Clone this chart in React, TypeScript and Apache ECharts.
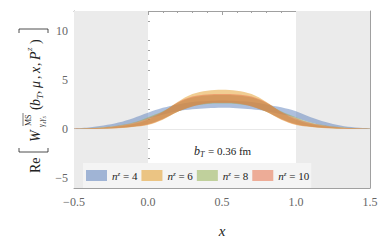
import React, { useEffect, useRef } from "react";
import * as echarts from "echarts";

const xs = [-0.5, -0.4, -0.3, -0.2, -0.1, 0.0, 0.1, 0.2, 0.3, 0.4, 0.5, 0.6, 0.7, 0.8, 0.9, 1.0, 1.1, 1.2, 1.3, 1.4, 1.5];

const blueLo = [0.0, 0.05, 0.15, 0.3, 0.6, 1.05, 1.45, 1.8, 2.0, 2.1, 2.15, 2.1, 2.0, 1.8, 1.5, 1.15, 0.65, 0.3, 0.15, 0.05, 0.0];
const blueHi = [0.05, 0.15, 0.35, 0.65, 1.1, 1.65, 2.15, 2.5, 2.75, 2.85, 2.9, 2.85, 2.75, 2.5, 2.2, 1.8, 1.2, 0.7, 0.35, 0.15, 0.05];
const orLo = [0.0, 0.0, 0.02, 0.08, 0.2, 0.4, 0.95, 1.75, 2.35, 2.65, 2.7, 2.65, 2.35, 1.75, 0.95, 0.4, 0.2, 0.08, 0.02, 0.0, 0.0];
const orHi = [0.02, 0.05, 0.12, 0.25, 0.5, 0.95, 1.7, 2.75, 3.55, 3.9, 4.0, 3.9, 3.55, 2.75, 1.7, 0.95, 0.5, 0.25, 0.12, 0.05, 0.02];
const grLo = [0.0, 0.0, 0.04, 0.12, 0.25, 0.5, 1.05, 1.75, 2.3, 2.55, 2.6, 2.55, 2.3, 1.75, 1.05, 0.5, 0.25, 0.12, 0.04, 0.0, 0.0];
const grHi = [0.03, 0.08, 0.18, 0.35, 0.65, 1.2, 1.8, 2.65, 3.2, 3.4, 3.45, 3.4, 3.2, 2.65, 1.8, 1.2, 0.65, 0.35, 0.18, 0.08, 0.03];
const rdLo = [0.0, 0.0, 0.03, 0.1, 0.22, 0.45, 1.0, 1.75, 2.3, 2.6, 2.65, 2.6, 2.3, 1.75, 1.0, 0.45, 0.22, 0.1, 0.03, 0.0, 0.0];
const rdHi = [0.03, 0.07, 0.16, 0.32, 0.6, 1.1, 1.75, 2.7, 3.3, 3.5, 3.55, 3.5, 3.3, 2.7, 1.75, 1.1, 0.6, 0.32, 0.16, 0.07, 0.03];

const bandNames = ["n4", "n6", "n8", "n10"];
const bandLabels = ["4", "6", "8", "10"];
const bandColors = ["#5b80bb", "#e39c26", "#95b253", "#e7714a"];
const bands = [
  [blueLo, blueHi],
  [orLo, orHi],
  [grLo, grHi],
  [rdLo, rdHi],
];

const yMajor = [-5, 0, 5, 10];
const yMinor = [-6, -4, -3, -2, -1, 1, 2, 3, 4, 6, 7, 8, 9, 11, 12];
const shaded = [
  [-0.5, 0],
  [1, 1.5],
];

const SERIF = "'Liberation Serif', 'DejaVu Serif', serif";
const FRAME = "#a0a0a0";

export default function App() {
  const ref = useRef<HTMLDivElement>(null);
  useEffect(() => {
    document.body.style.margin = "0";
    const chart = echarts.init(ref.current!, undefined, { renderer: "svg" });
    const series: any[] = [];
    series.push({
      type: "line",
      name: "bg",
      data: [],
      z: 0,
      silent: true,
      markArea: {
        silent: true,
        itemStyle: { color: "#ebebeb" },
        data: shaded.map(([a, b]) => [{ xAxis: a }, { xAxis: b }]),
      },
      markLine: {
        silent: true,
        symbol: "none",
        label: { show: false },
        lineStyle: { color: "#e8e8e8", width: 1, type: "solid" },
        data: [{ yAxis: 0 }],
      },
    });
    bands.forEach(([lo, hi], i) => {
      const rows = xs.map((x, k) => [x, lo[k], hi[k]]);
      series.push({
        type: "custom",
        name: bandNames[i],
        data: rows,
        encode: { x: 0, y: [1, 2] },
        z: 2,
        silent: true,
        renderItem: (params: any, api: any) => {
          if (params.dataIndex !== 0) return null;
          const top = rows.map((r) => api.coord([r[0], r[2]]));
          const bot = rows.map((r) => api.coord([r[0], r[1]])).reverse();
          return {
            type: "group",
            children: [
              {
                type: "polyline",
                shape: { points: top.concat(bot), smooth: 0.35 },
                style: { fill: bandColors[i], opacity: 0.5, stroke: null },
              },
            ],
          };
        },
      });
    });

    const xTick = { show: true, inside: true, length: 4, lineStyle: { color: FRAME } };
    const xMinor = { show: true, splitNumber: 5, length: 2, lineStyle: { color: FRAME } };
    const baseX = {
      type: "value",
      min: -0.5,
      max: 1.5,
      interval: 0.5,
      axisLine: { show: true, onZero: false, lineStyle: { color: FRAME } },
      axisTick: xTick,
      minorTick: xMinor,
      splitLine: { show: false },
    };
    const baseY = {
      type: "value",
      min: -6,
      max: 12,
      axisLine: { show: true, onZero: false, lineStyle: { color: FRAME } },
      splitLine: { show: false },
    };

    const yAxes: any[] = [];
    ["left", "right"].forEach((pos) => {
      yAxes.push({
        ...baseY,
        position: pos,
        axisTick: { show: true, inside: true, length: 4, customValues: yMajor, lineStyle: { color: FRAME } },
        axisLabel: {
          show: pos === "left",
          customValues: yMajor,
          formatter: (v: number) => String(v).replace("-", "\u2212"),
          color: "#666",
          fontFamily: SERIF,
          fontSize: 12,
          margin: 6,
        },
      });
      yAxes.push({
        ...baseY,
        position: pos,
        axisLine: { show: false },
        axisTick: { show: true, inside: true, length: 2, customValues: yMinor, lineStyle: { color: FRAME } },
        axisLabel: { show: false, customValues: yMinor },
      });
    });

    const T = (text: string, x: number, y: number, fontSize: number, italic = false) => ({
      type: "text",
      x,
      y,
      style: {
        text,
        fontSize,
        fontFamily: SERIF,
        fontStyle: italic ? "italic" : "normal",
        fill: "#222",
        verticalAlign: "middle",
        align: "left",
      },
    });

    const titleChildren: any[] = [
      T("Re", 0, -5, 14),
      {
        type: "polyline",
        shape: { points: [[25, -21], [21, -21], [21, 8], [25, 8]] },
        style: { stroke: "#222", lineWidth: 0.8, fill: null },
      },
      T("W", 31, -5, 14, true),
      T("MS", 47, -12, 8),
      {
        type: "line",
        shape: { x1: 47, y1: -17, x2: 60, y2: -17 },
        style: { stroke: "#222", lineWidth: 0.6 },
      },
      T("γ₄γ₅", 46, 1, 7.5, true),
      T("(", 63, -5, 14),
      T("b", 67, -5, 14, true),
      T("T", 74, 0, 9, true),
      T(",", 79, -5, 14),
      T("μ", 85, -5, 14, true),
      T(",", 94, -5, 14),
      T("x", 100, -5, 14, true),
      T(",", 107, -5, 14),
      T("P", 113, -5, 14, true),
      T("z", 122, -11, 9, true),
      T(")", 129, -5, 14),
      {
        type: "polyline",
        shape: { points: [[140, -21], [144, -21], [144, 8], [140, 8]] },
        style: { stroke: "#222", lineWidth: 0.8, fill: null },
      },
    ];

    const option: any = {
      animation: false,
      grid: { left: 74, right: 12, top: 11, bottom: 52, containLabel: false },
      xAxis: [
        {
          ...baseX,
          position: "bottom",
          axisLabel: {
            formatter: (v: number) => v.toFixed(1).replace("-", "\u2212"),
            color: "#666",
            fontFamily: SERIF,
            fontSize: 12,
            margin: 8,
          },
          name: "x",
          nameLocation: "middle",
          nameGap: 35,
          nameTextStyle: { fontFamily: SERIF, fontStyle: "italic", fontSize: 15, color: "#222" },
        },
        { ...baseX, position: "top", axisLabel: { show: false } },
      ],
      yAxis: yAxes,
      legend: {
        left: 83,
        top: 163,
        width: 290,
        orient: "horizontal",
        backgroundColor: "#f4f4f4",
        padding: [7, 2, 7, 3],
        itemWidth: 21,
        itemHeight: 11,
        itemGap: 4,
        icon: "rect",
        data: bandNames.map((n, i) => ({
          name: n,
          itemStyle: { color: bandColors[i], opacity: 0.55 },
        })),
        formatter: (name: string) => {
          const i = bandNames.indexOf(name);
          return `{n|n}{z|z}{t| = ${bandLabels[i]}}`;
        },
        textStyle: {
          fontFamily: SERIF,
          color: "#222",
          rich: {
            n: { fontFamily: SERIF, fontStyle: "italic", fontSize: 11, verticalAlign: "bottom", color: "#222" },
            z: { fontFamily: SERIF, fontStyle: "italic", fontSize: 7, verticalAlign: "top", color: "#222" },
            t: { fontFamily: SERIF, fontSize: 11, verticalAlign: "bottom", width: 30, align: "left", color: "#222" },
          },
        },
        selectedMode: false,
      },
      graphic: [
        {
          type: "group",
          x: 40,
          y: 173,
          rotation: Math.PI / 2,
          children: titleChildren,
        },
        T("b", 194, 151, 12, true),
        T("T", 200, 154, 8, true),
        T("= 0.36 fm", 208, 151, 11),
      ],
      series,
    };
    chart.setOption(option);
    return () => chart.dispose();
  }, []);
  return <div ref={ref} style={{ width: 382, height: 243 }} />;
}
